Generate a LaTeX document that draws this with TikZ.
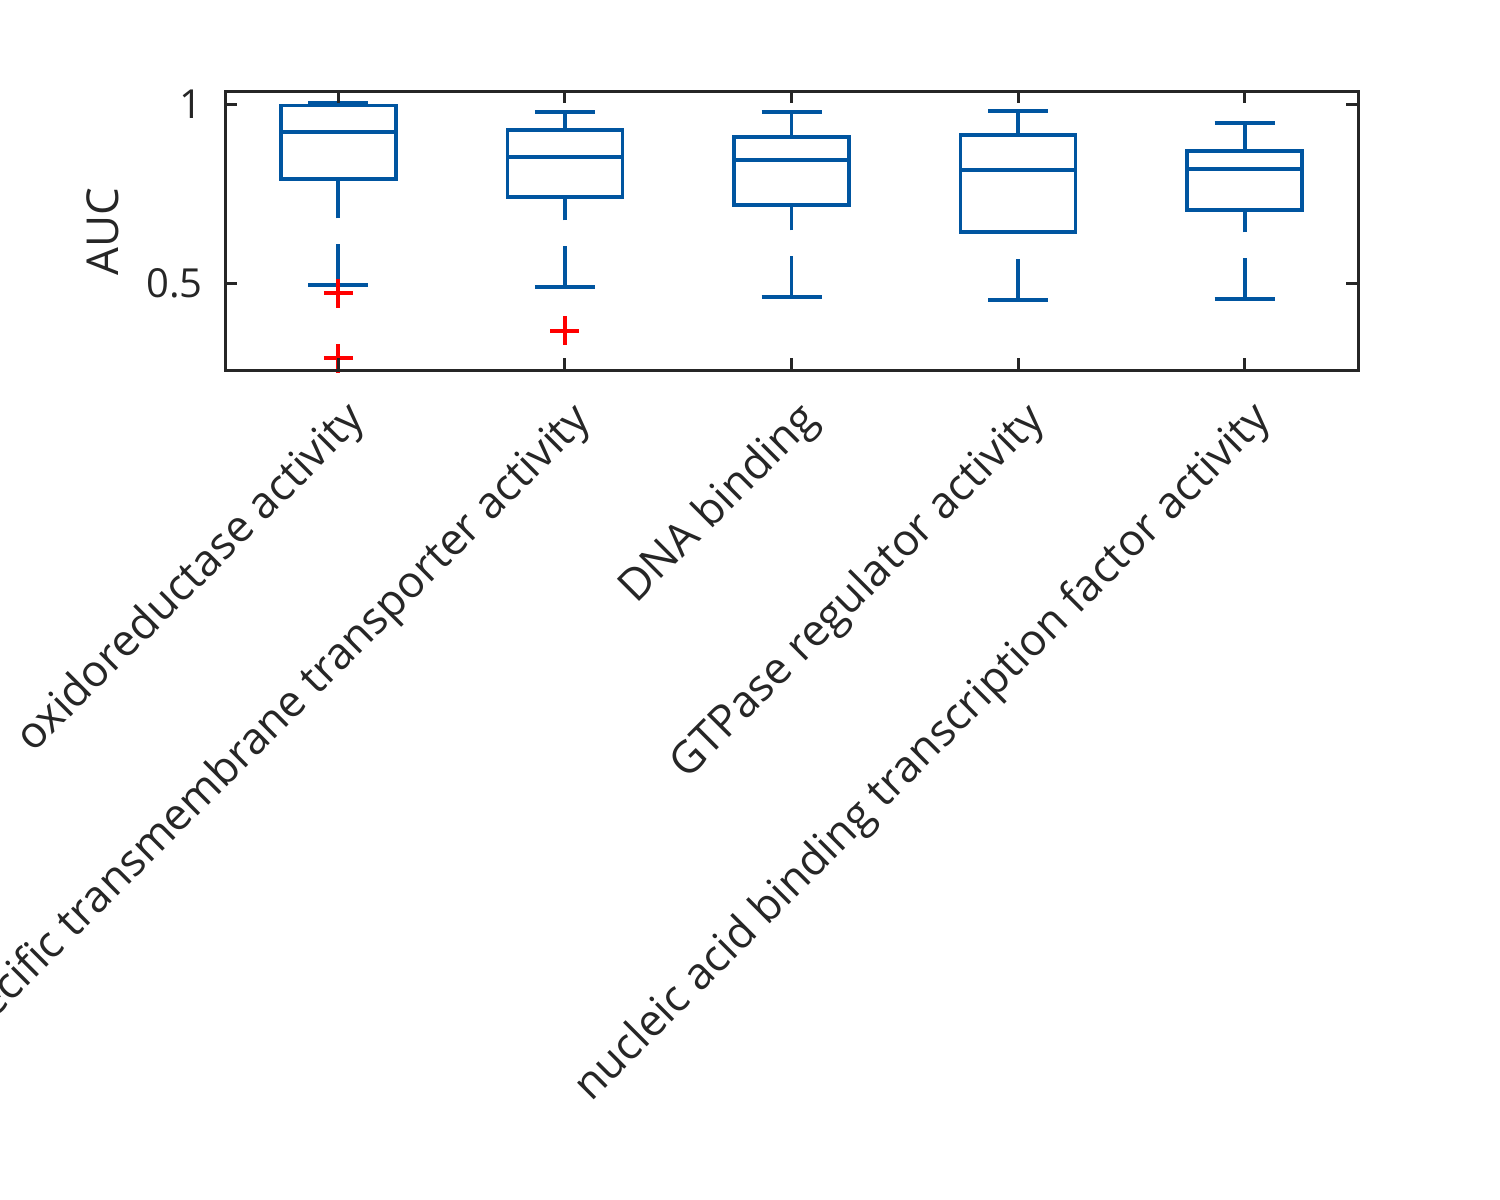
\documentclass[tikz,border=0pt]{standalone}
\usepackage{fontspec}
\setmainfont{Open Sans}
\definecolor{axcol}{RGB}{38,38,38}
\definecolor{boxblue}{RGB}{0,85,160}
\begin{document}
\begin{tikzpicture}[x=0.5pt,y=-0.5pt,
  ax/.style={draw=axcol, line width=1.5pt},
  bx/.style={draw=boxblue, line width=1.85pt},
  wh/.style={draw=boxblue, line width=1.85pt, dash pattern=on 20.5pt off 13pt},
  outl/.style={draw=red, line width=1.85pt},
  tl/.style={font=\fontsize{20}{24}\selectfont, text=axcol, inner sep=0pt},
  xl/.style={font=\fontsize{22}{26}\selectfont, text=axcol, inner sep=0pt, anchor=base east, rotate=45}]
\useasboundingbox (0,0) rectangle (1500,1200);
% boxes
\foreach \cx/\uc/\tp/\md/\bt/\lc in {338.3/102.8/105.5/132/178.7/285.3,
  564.9/111.7/130/157.3/197/287.3,
  791.5/112.3/137/160.3/205.3/297.3,
  1018.1/110.7/135/170.3/232.3/300,
  1244.7/123.3/151/168.7/210/299.3}{
  \draw[wh] (\cx,\lc) -- (\cx,\bt);
  \draw[wh] (\cx,\uc) -- (\cx,\tp);
  \draw[bx] (\cx-57.5,\tp) rectangle (\cx+57.5,\bt);
  \draw[bx] (\cx-57.5,\md) -- (\cx+57.5,\md);
  \draw[bx] (\cx-30,\uc) -- (\cx+30,\uc);
  \draw[bx] (\cx-30,\lc) -- (\cx+30,\lc);
}
% outliers
\foreach \cx/\oy in {338.3/293.3, 338.3/358.3, 564.9/330.7}{
  \draw[outl] (\cx-14.5,\oy) -- (\cx+14.5,\oy) (\cx,\oy-14.5) -- (\cx,\oy+14.5);
}
% axes
\draw[ax] (225,91) rectangle (1358,370);
\foreach \xx in {338.3,564.9,791.5,1018.1,1244.7}{
  \draw[ax] (\xx,370) -- (\xx,358);
  \draw[ax] (\xx,91) -- (\xx,103);
}
\foreach \yy in {104,283.3}{
  \draw[ax] (225,\yy) -- (237,\yy);
  \draw[ax] (1358,\yy) -- (1346,\yy);
}
% tick labels
\node[tl, anchor=east] (t1) at (203,104) {1};
\node[tl, anchor=east] (t05) at (203,283.3) {0.5};
\node[tl, font=\fontsize{22}{26}\selectfont, rotate=90] (ylab) at (103,232) {AUC};
\node[xl] (x1) at (338.3+28,421) {oxidoreductase activity};
\node[xl] (x2) at (564.9+28,421) {ecific transmembrane transporter activity};
\node[xl] (x3) at (791.5+28,421) {DNA binding};
\node[xl] (x4) at (1018.1+28,421) {GTPase regulator activity};
\node[xl] (x5) at (1244.7+28,421) {nucleic acid binding transcription factor activity};
\end{tikzpicture}
\end{document}
